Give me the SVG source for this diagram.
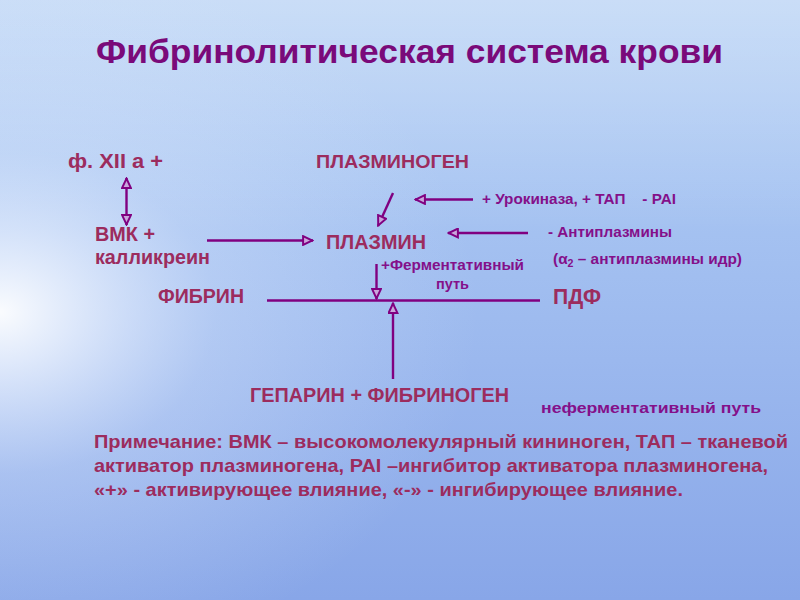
<svg xmlns="http://www.w3.org/2000/svg" width="800" height="600" viewBox="0 0 800 600">
<defs>
<linearGradient id="bg" x1="0" y1="0" x2="0" y2="1">
<stop offset="0" stop-color="#b3cff4"/>
<stop offset="0.3" stop-color="#a8c5f2"/>
<stop offset="0.6" stop-color="#9bb8ee"/>
<stop offset="1" stop-color="#88a6e8"/>
</linearGradient>
<radialGradient id="glow" cx="0" cy="0.5" r="0.6" gradientTransform="translate(0,0.02) scale(1,1)">
<stop offset="0" stop-color="#ffffff" stop-opacity="0.95"/>
<stop offset="0.15" stop-color="#f4f8ff" stop-opacity="0.75"/>
<stop offset="0.45" stop-color="#e2ecfd" stop-opacity="0.3"/>
<stop offset="1" stop-color="#dce8fc" stop-opacity="0"/>
</radialGradient>
<linearGradient id="cloud" x1="0" y1="0" x2="0" y2="1">
<stop offset="0" stop-color="#ffffff" stop-opacity="0.3"/>
<stop offset="1" stop-color="#ffffff" stop-opacity="0"/>
</linearGradient>
<marker id="ah" viewBox="0 0 10 10" refX="10" refY="5" markerWidth="13" markerHeight="11" markerUnits="userSpaceOnUse" orient="auto-start-reverse">
<path d="M1,1 L9.5,5 L1,9 Z" fill="#c9a6dc" stroke="#800080" stroke-width="1.8"/>
</marker>
<style>
.t{font-family:"Liberation Sans",Arial,sans-serif;font-weight:bold}
.title{font-size:33px;fill:#7a0a7a}
.lbl{fill:#9c2c5e}
.pur{fill:#84108a}
.ln{stroke:#800080;stroke-width:2.4;fill:none}
</style>
</defs>
<rect width="800" height="600" fill="url(#bg)"/>
<rect width="800" height="230" fill="url(#cloud)"/>
<rect width="800" height="600" fill="url(#glow)"/>

<text class="t title" x="96" y="63" textLength="627" lengthAdjust="spacingAndGlyphs">Фибринолитическая система крови</text>

<g id="connectors">
<line class="ln" x1="126.5" y1="178" x2="126.5" y2="225" marker-start="url(#ah)" marker-end="url(#ah)"/>
<line class="ln" x1="207" y1="240.5" x2="313" y2="240.5" marker-end="url(#ah)"/>
<line class="ln" x1="393" y1="193" x2="378" y2="226" marker-end="url(#ah)"/>
<line class="ln" x1="473" y1="199.5" x2="415" y2="199.5" marker-end="url(#ah)"/>
<line class="ln" x1="528" y1="233" x2="448" y2="233" marker-end="url(#ah)"/>
<line class="ln" x1="376.5" y1="264" x2="376.5" y2="299" marker-end="url(#ah)"/>
<line class="ln" x1="267" y1="300.5" x2="540" y2="300.5" stroke-width="3"/>
<line class="ln" x1="393" y1="379" x2="393" y2="303" marker-end="url(#ah)"/>
</g>

<g id="f12"><text class="t lbl" x="68" y="168" font-size="19.5" textLength="95" lengthAdjust="spacingAndGlyphs">ф. XII а +</text></g>
<g id="plasminogen"><text class="t lbl" x="316" y="168" font-size="18.5" textLength="153" lengthAdjust="spacingAndGlyphs">ПЛАЗМИНОГЕН</text></g>
<g id="vmk">
<text class="t lbl" x="95" y="241" font-size="19.5" textLength="60" lengthAdjust="spacingAndGlyphs">ВМК +</text>
<text class="t lbl" x="95" y="264" font-size="19.5" textLength="115" lengthAdjust="spacingAndGlyphs">калликреин</text>
</g>
<g id="plasmin"><text class="t lbl" x="326" y="249" font-size="20.5" textLength="100" lengthAdjust="spacingAndGlyphs">ПЛАЗМИН</text></g>
<g id="urokinase"><text class="t pur" x="482" y="204" font-size="14.5" textLength="194" lengthAdjust="spacingAndGlyphs" xml:space="preserve">+ Урокиназа, + ТАП    - PAI</text></g>
<g id="antiplasmin">
<text class="t pur" x="548" y="237" font-size="14.5" textLength="124" lengthAdjust="spacingAndGlyphs">- Антиплазмины</text>
<text class="t pur" x="553" y="264" font-size="14.5" textLength="189" lengthAdjust="spacingAndGlyphs">(α<tspan font-size="10" dy="3">2</tspan><tspan dy="-3"> – антиплазмины идр)</tspan></text>
</g>
<g id="enzymatic">
<text class="t pur" x="381" y="270" font-size="14.5" textLength="143" lengthAdjust="spacingAndGlyphs">+Ферментативный</text>
<text class="t pur" x="436" y="289" font-size="14.5" textLength="33" lengthAdjust="spacingAndGlyphs">путь</text>
</g>
<g id="fibrin"><text class="t lbl" x="158" y="303" font-size="19.5" textLength="86" lengthAdjust="spacingAndGlyphs">ФИБРИН</text></g>
<g id="pdf"><text class="t lbl" x="553" y="304" font-size="21.5" textLength="48" lengthAdjust="spacingAndGlyphs">ПДФ</text></g>
<g id="heparin"><text class="t lbl" x="250" y="402" font-size="19.5" textLength="259" lengthAdjust="spacingAndGlyphs">ГЕПАРИН + ФИБРИНОГЕН</text></g>
<g id="nonenzymatic"><text class="t pur" x="541" y="413" font-size="15" textLength="220" lengthAdjust="spacingAndGlyphs">неферментативный путь</text></g>
<g id="note">
<text class="t lbl" x="94" y="448" font-size="18.5" textLength="694" lengthAdjust="spacingAndGlyphs">Примечание: ВМК – высокомолекулярный кининоген, ТАП – тканевой</text>
<text class="t lbl" x="94" y="472" font-size="18.5" textLength="674" lengthAdjust="spacingAndGlyphs">активатор плазминогена, PAI –ингибитор активатора плазминогена,</text>
<text class="t lbl" x="94" y="496" font-size="18.5" textLength="589" lengthAdjust="spacingAndGlyphs">«+» - активирующее влияние, «-» - ингибирующее влияние.</text>
</g>
</svg>
